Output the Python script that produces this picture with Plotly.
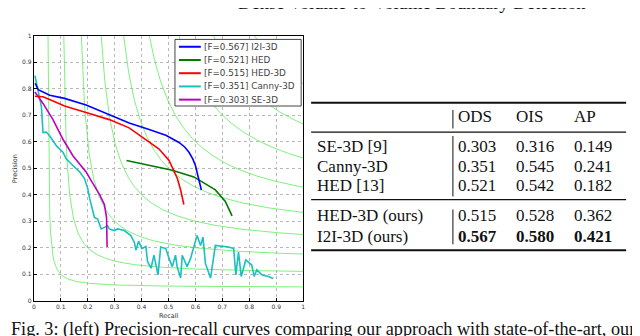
import numpy as np
import plotly.graph_objects as go

W, H = 640, 336

# precision-recall curves
i2i_recall = [0.005, 0.016, 0.059, 0.114, 0.194, 0.280, 0.354, 0.428, 0.490, 0.539, 0.560, 0.576,
              0.590, 0.600, 0.613, 0.622]
i2i_precision = [0.820, 0.796, 0.775, 0.763, 0.738, 0.701, 0.670, 0.646, 0.624, 0.597, 0.580, 0.560,
                 0.535, 0.510, 0.461, 0.418]

hed_recall = [0.344, 0.428, 0.514, 0.594, 0.625, 0.674, 0.711, 0.736]
hed_precision = [0.529, 0.510, 0.492, 0.467, 0.449, 0.418, 0.375, 0.320]

hed3d_recall = [0.004, 0.034, 0.065, 0.114, 0.194, 0.280, 0.354, 0.416, 0.465, 0.502, 0.520,
                0.533, 0.545, 0.557]
hed3d_precision = [0.771, 0.769, 0.756, 0.734, 0.710, 0.683, 0.652, 0.609, 0.572, 0.529, 0.486,
                   0.461, 0.418, 0.363]

canny_recall = [0.004, 0.016, 0.028, 0.034, 0.046, 0.059, 0.084, 0.108, 0.120, 0.145, 0.170, 0.188,
                0.200, 0.207, 0.219, 0.225, 0.237, 0.250, 0.262, 0.274, 0.280, 0.299, 0.311, 0.336,
                0.360, 0.373, 0.379, 0.389, 0.401, 0.416, 0.422, 0.435, 0.446, 0.453, 0.461, 0.471,
                0.490, 0.502, 0.514, 0.526, 0.532, 0.545, 0.551, 0.569, 0.582, 0.606, 0.619, 0.628,
                0.637, 0.656, 0.674, 0.723, 0.742, 0.750, 0.760, 0.770, 0.787, 0.809, 0.818, 0.828,
                0.846, 0.871, 0.889]
canny_precision = [0.849, 0.793, 0.732, 0.634, 0.636, 0.621, 0.584, 0.560, 0.535, 0.510, 0.486, 0.461,
                   0.424, 0.387, 0.338, 0.314, 0.308, 0.271, 0.277, 0.283, 0.271, 0.265, 0.271, 0.265,
                   0.246, 0.221, 0.191, 0.225, 0.197, 0.205, 0.148, 0.123, 0.172, 0.141, 0.098, 0.203,
                   0.197, 0.160, 0.129, 0.172, 0.129, 0.086, 0.172, 0.129, 0.160, 0.246, 0.209, 0.240,
                   0.141, 0.086, 0.209, 0.203, 0.197, 0.098, 0.184, 0.092, 0.154, 0.135, 0.092, 0.117,
                   0.098, 0.092, 0.084]

se_recall = [0.004, 0.034, 0.071, 0.108, 0.145, 0.194, 0.219, 0.244, 0.262, 0.270, 0.272]
se_precision = [0.787, 0.744, 0.683, 0.609, 0.547, 0.486, 0.443, 0.400, 0.363, 0.314, 0.203]

legend_labels = ['[F=0.567] I2I-3D', '[F=0.521] HED', '[F=0.515] HED-3D',
                 '[F=0.351] Canny-3D', '[F=0.303] SE-3D']
curve_colors = ['#0000ff', '#007a00', '#ff0000', '#1cbfbf', '#bf00bf']

# iso-F guide levels
f_levels = [0.1, 0.2, 0.3, 0.4, 0.5, 0.6, 0.7, 0.8, 0.9]

tick_vals = [0, 0.1, 0.2, 0.3, 0.4, 0.5, 0.6, 0.7, 0.8, 0.9, 1]
tick_text = ['0', '0.1', '0.2', '0.3', '0.4', '0.5', '0.6', '0.7', '0.8', '0.9', '1']

# table
methods = ['SE-3D [9]', 'Canny-3D', 'HED [13]', 'HED-3D (ours)', 'I2I-3D (ours)']
ods = ['0.303', '0.351', '0.521', '0.515', '0.567']
ois = ['0.316', '0.545', '0.542', '0.528', '0.580']
ap = ['0.149', '0.241', '0.182', '0.362', '0.421']
columns = ['ODS', 'OIS', 'AP']
bold_row = 4


def px(x):
  return x / W


def py(y):
  return 1 - y / H


fig = go.Figure()

# iso-F contours
for f in f_levels:
  r = np.linspace(f / (2 - f), 1, 300)
  p = f * r / (2 * r - f)
  fig.add_trace(go.Scatter(x=r, y=p, mode='lines', hoverinfo='skip',
                           line=dict(color='rgba(70,235,70,0.7)', width=1)))

curves = [(i2i_recall, i2i_precision), (hed_recall, hed_precision),
          (hed3d_recall, hed3d_precision), (canny_recall, canny_precision),
          (se_recall, se_precision)]
# draw order: canny under the others
for idx in [3, 4, 1, 2, 0]:
  r, p = curves[idx]
  fig.add_trace(go.Scatter(x=r, y=p, mode='lines', name=legend_labels[idx],
                           line=dict(color=curve_colors[idx], width=1.6)))

axis_common = dict(
  range=[0, 1], tickvals=tick_vals, ticktext=tick_text,
  showgrid=True, gridcolor='#b8b8b8', griddash='dot', gridwidth=1,
  zeroline=False, showline=True, linecolor='#000', linewidth=1, mirror=True,
  ticks='inside', ticklen=3, tickcolor='#000',
  tickfont=dict(family='DejaVu Sans', size=6, color='#333'),
)
fig.update_xaxes(domain=[px(24), px(295)], **axis_common)
fig.update_yaxes(domain=[py(295), py(24)], **axis_common)

shapes = []
annotations = []

# legend box
shapes.append(dict(type='rect', xref='paper', yref='paper', x0=px(166), x1=px(293),
                   y0=py(96), y1=py(28), fillcolor='white', line=dict(color='#444', width=1)))
for i, lab in enumerate(legend_labels):
  yc = 35.5 + 13.5 * i
  shapes.append(dict(type='line', xref='paper', yref='paper', x0=px(170), x1=px(192),
                     y0=py(yc), y1=py(yc), line=dict(color=curve_colors[i], width=2)))
  annotations.append(dict(text=lab, xref='paper', yref='paper', x=px(193), y=py(yc),
                          xanchor='left', yanchor='middle', showarrow=False,
                          font=dict(family='DejaVu Sans', size=8.8, color='#444')))

# axis titles
annotations.append(dict(text='Recall', xref='paper', yref='paper', x=px(159.5), y=py(310.5),
                        xanchor='center', yanchor='middle', showarrow=False,
                        font=dict(family='DejaVu Sans', size=6.5, color='#333')))
annotations.append(dict(text='Precision', xref='paper', yref='paper', x=px(5), y=py(159.5),
                        xanchor='center', yanchor='middle', showarrow=False, textangle=-90,
                        font=dict(family='DejaVu Sans', size=6.5, color='#333')))

serif = 'Liberation Serif'

# running header and caption (cut by the page edges, as in the source)
annotations.append(dict(text='Dense Volume-to-Volume Boundary Detection', xref='paper', yref='paper',
                        x=px(405), y=py(3), xanchor='center', yanchor='bottom', showarrow=False,
                        font=dict(family=serif, size=18.6, color='#111')))
annotations.append(dict(text='7', xref='paper', yref='paper', x=px(641), y=py(3),
                        xanchor='right', yanchor='bottom', showarrow=False,
                        font=dict(family=serif, size=18.6, color='#111')))
annotations.append(dict(text='Fig. 3: (left) Precision-recall curves comparing our approach with state-of-the-art, our',
                        xref='paper', yref='paper', x=px(-1), y=py(311.5), xanchor='left', yanchor='top',
                        showarrow=False, font=dict(family=serif, size=18.2, color='#111')))

# table rules
for yv, lw in [(92.7, 2), (122.7, 1.3), (191.7, 1.3), (243.3, 2)]:
  shapes.append(dict(type='line', xref='paper', yref='paper', x0=px(303), x1=px(620),
                     y0=py(yv), y1=py(yv), line=dict(color='#111', width=lw)))
for y0, y1 in [(100, 119), (126.7, 188.3), (201.7, 237.3)]:
  shapes.append(dict(type='line', xref='paper', yref='paper', x0=px(445.7), x1=px(445.7),
                     y0=py(y0), y1=py(y1), line=dict(color='#111', width=1)))

col_x = [449.3, 506.7, 565.7]
row_y = [137.3, 157.7, 177.3, 208.3, 229.3]
tfont = dict(family=serif, size=17, color='#111')

for cx, name in zip(col_x, columns):
  annotations.append(dict(text=name, xref='paper', yref='paper', x=px(cx), y=py(107),
                          xanchor='left', yanchor='middle', showarrow=False, font=tfont))

for i, (m, a, b, c) in enumerate(zip(methods, ods, ois, ap)):
  vals = [a, b, c]
  if i == bold_row:
    vals = ['<b>' + v + '</b>' for v in vals]
  annotations.append(dict(text=m, xref='paper', yref='paper', x=px(306.7), y=py(row_y[i]),
                          xanchor='left', yanchor='middle', showarrow=False, font=tfont))
  for cx, v in zip(col_x, vals):
    annotations.append(dict(text=v, xref='paper', yref='paper', x=px(cx), y=py(row_y[i]),
                            xanchor='left', yanchor='middle', showarrow=False, font=tfont))

fig.update_layout(
  width=W, height=H,
  margin=dict(l=0, r=0, t=0, b=0),
  paper_bgcolor='white', plot_bgcolor='white',
  showlegend=False,
  shapes=shapes,
  annotations=annotations,
)

fig.write_html("out.html")
